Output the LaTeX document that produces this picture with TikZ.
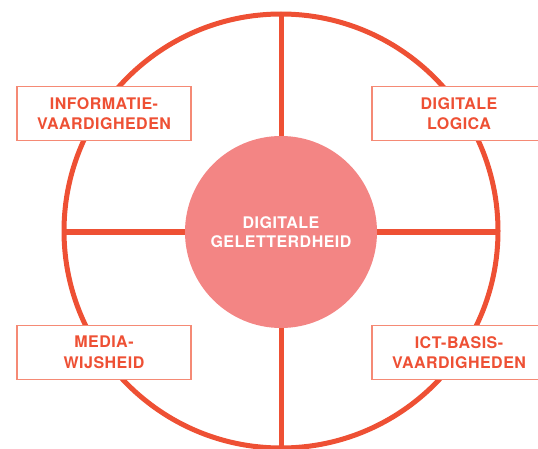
\documentclass[tikz,border=0pt]{standalone}
\usepackage{fontspec}
\setmainfont{TeX Gyre Heros}[LetterSpace=3]
\definecolor{mainred}{HTML}{EE5034}
\definecolor{boxline}{HTML}{F58A75}
\definecolor{innerfill}{HTML}{F38584}
\begin{document}
\begin{tikzpicture}[x=1pt,y=-1pt,
  ring/.style={draw=mainred,line width=5pt},
  spoke/.style={draw=mainred,line width=5pt},
  labelbox/.style={draw=boxline,line width=1.2pt,fill=white,minimum width=174pt,minimum height=54pt,
    align=center,text=mainred,font=\bfseries\fontsize{16}{20.5}\selectfont,inner sep=0pt},
  hub/.style={circle,fill=innerfill,minimum size=192pt,inner sep=0pt,align=center,text=white,
    font=\bfseries\fontsize{16}{19.5}\selectfont}]
\useasboundingbox (0,0) rectangle (538,449);
\clip (0,0) rectangle (538,449);
\coordinate (c) at (281,231);
\coordinate (top) at (281,14);
\coordinate (bot) at (281,448);
\coordinate (lft) at (64,232);
\coordinate (rgt) at (498,232);
\draw[ring] (c) circle[radius=217pt];
\draw[spoke] (top) -- (bot);
\draw[spoke] (lft) -- (rgt);
\node[hub] (hub) at (281,232) {DIGITALE\\GELETTERDHEID};
\node[labelbox] (info) at (104,113.5) {INFORMATIE-\\VAARDIGHEDEN};
\node[labelbox] (logica) at (459,113.5) {DIGITALE\\LOGICA};
\node[labelbox] (media) at (104,352.5) {MEDIA-\\WIJSHEID};
\node[labelbox] (ict) at (459,352.5) {ICT-BASIS-\\VAARDIGHEDEN};
\end{tikzpicture}
\end{document}
